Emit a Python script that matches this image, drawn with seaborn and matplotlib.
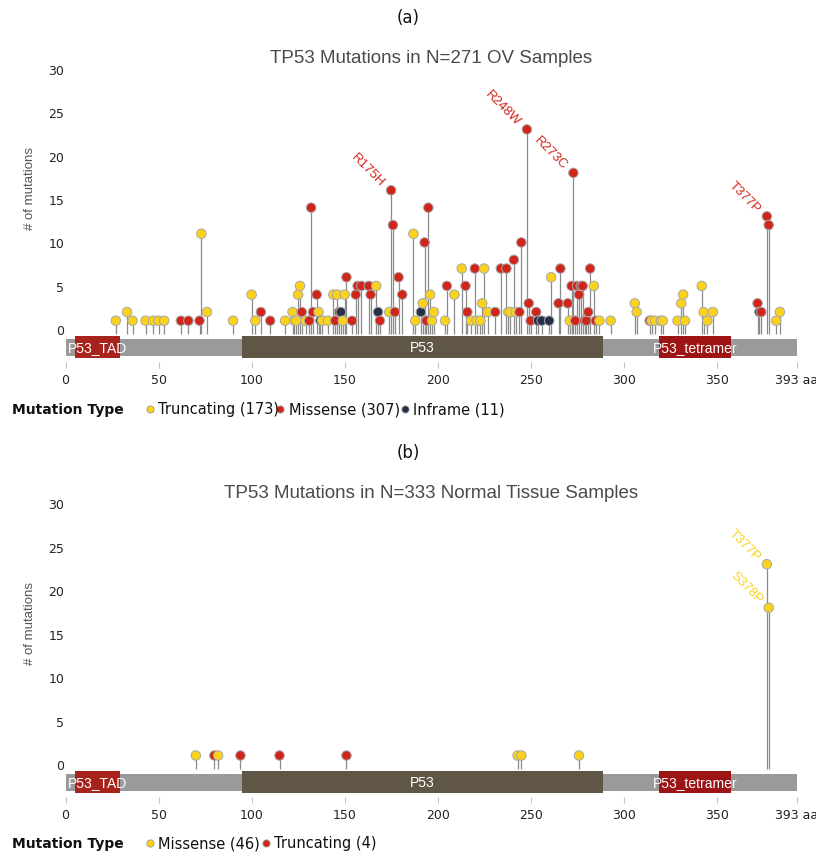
import numpy as np
import pandas as pd
import matplotlib
matplotlib.use("Agg")
import matplotlib.pyplot as plt
import seaborn as sns
from matplotlib.patches import Rectangle
from matplotlib.lines import Line2D

sns.set_theme(style="white")
plt.rcParams["font.family"] = ["DejaVu Sans"]

# ---------------- data ----------------
protein_length = 393
x_ticks = [0, 50, 100, 150, 200, 250, 300, 350, 393]
x_tick_labels = ["0", "50", "100", "150", "200", "250", "300", "350", "393 aa"]
y_ticks = [0, 5, 10, 15, 20, 25, 30]

dom_names = ["P53_TAD", "P53", "P53_tetramer"]
dom_start = [5, 95, 319]
dom_end = [29, 289, 358]

# Panel (a): OV samples
a_pos = [27, 33, 36, 43, 47, 50, 53, 62, 66, 72,
         73, 76, 90, 100, 102, 105, 110, 118, 122, 123,
         124, 125, 126, 127, 129, 131, 132, 133, 135, 136,
         137, 138, 141, 144, 145, 146, 147, 148, 149, 150,
         151, 154, 156, 157, 159, 163, 164, 167, 168, 169,
         174, 175, 176, 177, 179, 181, 187, 188, 191, 192,
         193, 194, 195, 196, 197, 198, 204, 205, 209, 213,
         215, 216, 218, 220, 221, 223, 224, 225, 227, 231,
         234, 237, 238, 239, 241, 242, 244, 245, 248, 249,
         250, 253, 254, 256, 260, 261, 265, 266, 270, 271,
         272, 273, 274, 275, 276, 277, 278, 279, 280, 281,
         282, 284, 285, 287, 293, 306, 307, 314, 315, 317,
         320, 321, 329, 331, 332, 333, 342, 343, 345, 348,
         372, 373, 374, 377, 378, 382, 384]
a_cnt = [1, 2, 1, 1, 1, 1, 1, 1, 1, 1,
         11, 2, 1, 4, 1, 2, 1, 1, 2, 1,
         1, 4, 5, 2, 1, 1, 14, 2, 4, 2,
         1, 1, 1, 4, 1, 4, 2, 2, 1, 4,
         6, 1, 4, 5, 5, 5, 4, 5, 2, 1,
         2, 16, 12, 2, 6, 4, 11, 1, 2, 3,
         10, 1, 14, 4, 1, 2, 1, 5, 4, 7,
         5, 2, 1, 7, 1, 1, 3, 7, 2, 2,
         7, 7, 2, 2, 8, 2, 2, 10, 23, 3,
         1, 2, 1, 1, 1, 6, 3, 7, 3, 1,
         5, 18, 1, 5, 4, 5, 5, 1, 1, 2,
         7, 5, 1, 1, 1, 3, 2, 1, 1, 1,
         1, 1, 1, 3, 4, 1, 5, 2, 1, 2,
         3, 2, 2, 13, 12, 1, 2]
a_type = ["T", "T", "T", "T", "T", "T", "T", "M", "M", "M",
          "T", "T", "T", "T", "T", "M", "M", "T", "T", "T",
          "T", "T", "T", "M", "T", "M", "M", "M", "M", "T",
          "I", "T", "T", "T", "M", "T", "M", "I", "T", "T",
          "M", "M", "M", "M", "M", "M", "M", "T", "I", "M",
          "T", "M", "M", "M", "M", "M", "T", "T", "I", "T",
          "M", "M", "M", "T", "T", "T", "T", "M", "T", "T",
          "M", "M", "T", "M", "T", "T", "T", "T", "T", "M",
          "M", "M", "T", "T", "M", "T", "M", "M", "M", "M",
          "M", "M", "I", "I", "I", "T", "M", "M", "M", "T",
          "M", "M", "M", "M", "M", "M", "M", "M", "M", "M",
          "M", "T", "M", "T", "T", "T", "T", "M", "T", "T",
          "T", "T", "T", "T", "T", "T", "T", "T", "T", "T",
          "M", "I", "M", "M", "M", "T", "T"]
a_type_names = {"T": "Truncating", "M": "Missense", "I": "Inframe"}
a_legend = ["Truncating (173)", "Missense (307)", "Inframe (11)"]
a_label_text = ["R175H", "R248W", "R273C", "T377P"]
a_label_pos = [175, 248, 273, 377]
a_label_cnt = [16, 23, 18, 13]

# Panel (b): normal tissue samples
b_pos = [70, 80, 82, 94, 115, 151, 243, 245, 276, 377, 378]
b_cnt = [1, 1, 1, 1, 1, 1, 1, 1, 1, 23, 18]
b_type = ["Missense", "Truncating", "Missense", "Truncating", "Truncating",
          "Truncating", "Missense", "Missense", "Missense", "Missense", "Missense"]
b_legend = ["Missense (46)", "Truncating (4)"]
b_label_text = ["T377P", "S378P"]
b_label_pos = [377, 378]
b_label_cnt = [23, 18]

# ---------------- style ----------------
YEL = "#FAD21C"
RED = "#D0251A"
NAVY = "#252F47"
STEM = "#8a8a8a"
W, H = 816, 854

fig = plt.figure(figsize=(W / 100, H / 100), dpi=100)


def fx(x):
    return x / W


def fy(y):
    return 1 - y / H


dom_colors = ["#A8231C", "#605646", "#9C1414"]


def panel(top_px, df, palette, labels, label_color, title, tag, legend_items, legend_px):
    ax = fig.add_axes([fx(65.6), fy(top_px + 309), 731 / W, 309 / H])
    ax.set_xlim(0, protein_length)
    ax.set_ylim(-4.44, 31.1)
    for s in ax.spines.values():
        s.set_visible(False)
    # domain bar
    ax.add_patch(Rectangle((0, -3.06), protein_length, 1.96, color="#9a9a9a", lw=0, zorder=1))
    for n, s0, e0, c in zip(dom_names, dom_start, dom_end, dom_colors):
        ax.add_patch(Rectangle((s0, -3.29), e0 - s0, 2.53, color=c, lw=0, zorder=2))
        ax.text((s0 + e0) / 2, -2.05, n, color="white", ha="center", va="center",
                fontsize=10, family="Liberation Sans", zorder=3)
    # stems
    ax.vlines(df["pos"], -0.55, df["cnt"], color=STEM, lw=0.9, zorder=2)
    sns.scatterplot(data=df, x="pos", y="cnt", hue="type", palette=palette, s=47,
                    edgecolor="#a8a8a8", linewidth=0.7, legend=False, ax=ax, zorder=4)
    for t, p, c in labels:
        ax.annotate(t, (p, c), xytext=(-6, 4.5), textcoords="offset points",
                    rotation=-45, rotation_mode="anchor", ha="right", va="center",
                    color=label_color, fontsize=9.5, family="Liberation Sans")
    ax.set_xticks(x_ticks)
    ax.set_xticklabels(x_tick_labels)
    ax.set_yticks(y_ticks)
    ax.tick_params(axis="x", direction="in", length=4.3, width=0.8, color="#c4c4c4",
                   labelsize=9, pad=3.5, labelcolor="#222222", bottom=True)
    ax.tick_params(axis="y", length=0, labelsize=9, pad=1, labelcolor="#222222", left=True)
    ax.set_xlabel("")
    ax.set_ylabel("# of mutations", fontsize=9.5, color="#555555", family="Liberation Sans")
    ax.yaxis.set_label_coords(-0.04, 0.585)
    ax.text(0.5, (309 + 1) / 309, title, transform=ax.transAxes, ha="center", va="center",
            fontsize=13.5, color="#4a4a4a", family="Liberation Sans")
    fig.text(fx(408), fy(top_px - 42), tag, ha="center", va="center", fontsize=12, color="#111111")
    # legend
    ly = legend_px[0]
    fig.text(fx(12), fy(ly), "Mutation Type", ha="left", va="center", fontsize=10,
             fontweight="bold", color="#111111")
    for (label, color), (mx, tx) in zip(legend_items, legend_px[1]):
        fig.add_artist(Line2D([fx(mx)], [fy(ly)], marker="o", markersize=5.2, color=color,
                              markeredgecolor="#9a9a9a", markeredgewidth=0.6, lw=0,
                              transform=fig.transFigure))
        fig.text(fx(tx), fy(ly), label, ha="left", va="center", fontsize=10.5, color="#111111")
    return ax


df_a = pd.DataFrame({"pos": a_pos, "cnt": a_cnt, "type": [a_type_names[t] for t in a_type]})
panel(60, df_a, {"Truncating": YEL, "Missense": RED, "Inframe": NAVY},
      list(zip(a_label_text, a_label_pos, a_label_cnt)), RED,
      "TP53 Mutations in N=271 OV Samples", "(a)",
      list(zip(a_legend, [YEL, RED, NAVY])),
      (410, [(149.5, 158.5), (280, 289), (405, 413)]))

df_b = pd.DataFrame({"pos": b_pos, "cnt": b_cnt, "type": b_type})
panel(494.8, df_b, {"Missense": YEL, "Truncating": RED},
      list(zip(b_label_text, b_label_pos, b_label_cnt)), YEL,
      "TP53 Mutations in N=333 Normal Tissue Samples", "(b)",
      list(zip(b_legend, [YEL, RED])),
      (844, [(149.5, 158.5), (265.6, 274)]))

fig.savefig("out.png", dpi=100)
